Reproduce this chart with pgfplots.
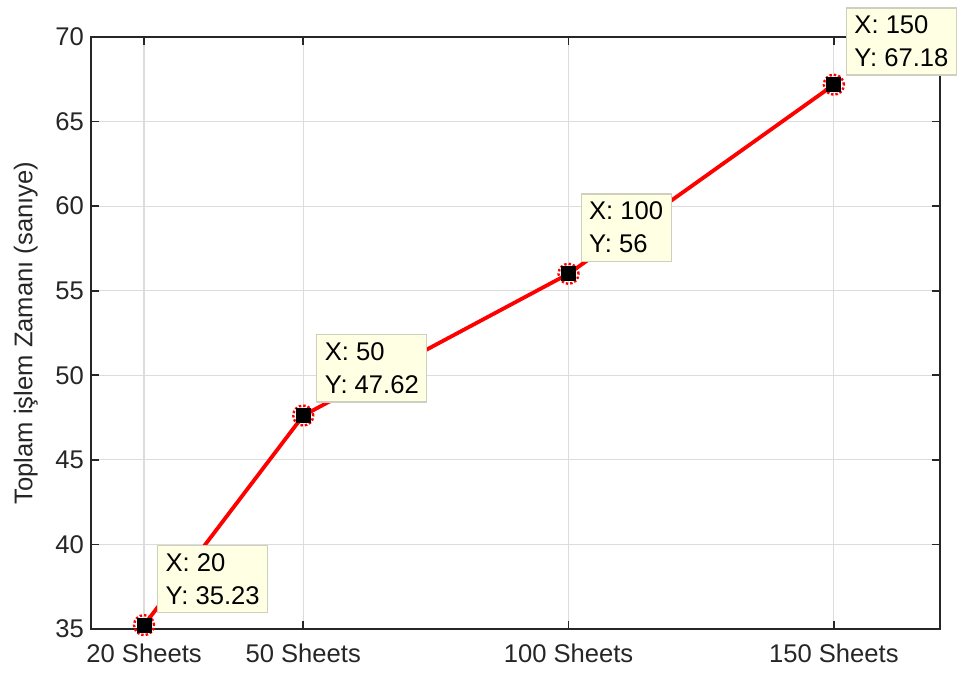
\documentclass[border=0pt]{standalone}
\usepackage{pgfplots}
\pgfplotsset{compat=1.18}
\usepackage{fontspec}
\setmainfont{Liberation Sans}
\definecolor{txt}{HTML}{262626}
\definecolor{gridc}{HTML}{DCDCDC}
\definecolor{tipfill}{HTML}{FFFFE4}
\definecolor{tipedge}{HTML}{CFCFC0}
\begin{document}
\begin{tikzpicture}
\begin{axis}[
  scale only axis,
  width=424.5pt, height=296pt,
  xmin=10, xmax=170, ymin=35, ymax=70,
  xtick={20,50,100,150},
  xticklabels={20 Sheets,50 Sheets,100 Sheets,150 Sheets},
  ytick={35,40,...,70},
  grid=major,
  major grid style={gridc, line width=0.6pt},
  axis line style={txt, line width=0.8pt},
  tick style={txt, line width=0.8pt},
  tick align=inside,
  major tick length=4pt,
  tick label style={txt, font=\fontsize{12.8}{15}\selectfont},
  xticklabel style={yshift=-4pt},
  /pgf/number format/assume math mode=true,
  ylabel={Toplam işlem Zamanı (sanıye)},
  every axis y label/.style={at={(ticklabel cs:0.5)}, rotate=90, anchor=south, yshift=2pt, text=txt, font=\fontsize{12.8}{15}\selectfont},
  clip=false,
]
\addplot[red, line width=1.9pt] coordinates {(20,35.23) (50,47.62) (100,56) (150,67.18)};
\addplot[only marks, mark=o, mark size=5pt, mark options={red, densely dotted, line width=1.2pt}] coordinates {(20,35.23) (50,47.62) (100,56) (150,67.18)};
\addplot[only marks, mark=square*, mark size=3.5pt, mark options={black, fill=black}] coordinates {(20,35.23) (50,47.62) (100,56) (150,67.18)};
\begin{scope}[every node/.style={draw=tipedge, fill=tipfill, line width=0.6pt, align=left, anchor=south west, inner xsep=4pt, inner ysep=4pt, font=\fontsize{12.8}{16.5}\selectfont, text=black}]
\node at ([xshift=6.5pt, yshift=6pt]axis cs:20,35.23) {X: 20\\Y: 35.23};
\node at ([xshift=6.5pt, yshift=6.5pt]axis cs:50,47.62) {X: 50\\Y: 47.62};
\node at ([xshift=6pt, yshift=6pt]axis cs:100,56) {X: 100\\Y: 56};
\node at ([xshift=6pt, yshift=4.5pt]axis cs:150,67.18) {X: 150\\Y: 67.18};
\end{scope}
\end{axis}
\pgfresetboundingbox
\path (current axis.south west) ++(-45.5pt,-23pt) rectangle ++(480pt,337.5pt);
\end{tikzpicture}
\end{document}
